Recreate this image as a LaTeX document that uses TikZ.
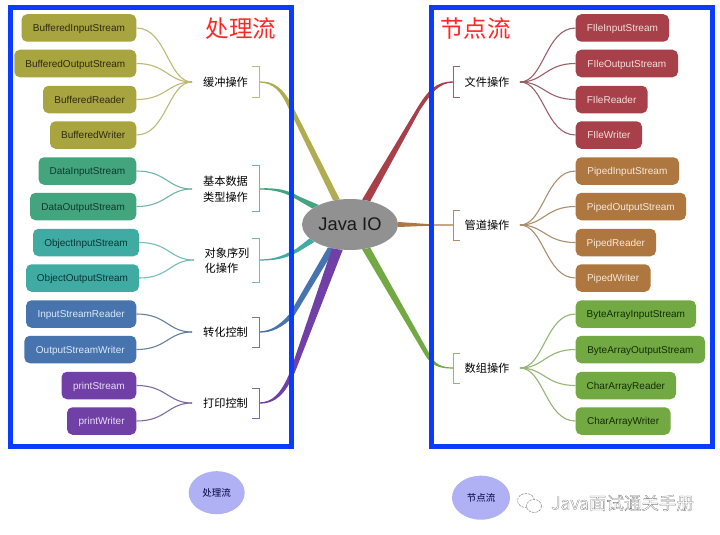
\documentclass[tikz,border=0pt]{standalone}
\usepackage{fontspec}
\setmainfont{Liberation Sans}
\newfontfamily\cjk{Noto Sans CJK SC}
\usetikzlibrary{shapes.geometric}
\pgfdeclarelayer{branches}\pgfdeclarelayer{frames}
\pgfsetlayers{branches,frames,main}
\definecolor{cOl}{HTML}{A8A43F}\definecolor{cOlT}{HTML}{2E2C10}\definecolor{cOlL}{HTML}{BDBA78}
\definecolor{cGr}{HTML}{43A57E}\definecolor{cGrT}{HTML}{0F3A2B}\definecolor{cGrL}{HTML}{72B49D}
\definecolor{cTe}{HTML}{3FABA3}\definecolor{cTeT}{HTML}{0A3535}\definecolor{cTeL}{HTML}{78BDB5}
\definecolor{cBl}{HTML}{4774AE}\definecolor{cBlT}{HTML}{DCE8F6}\definecolor{cBlL}{HTML}{64809F}
\definecolor{cPu}{HTML}{7040A6}\definecolor{cPuT}{HTML}{E8DDF5}\definecolor{cPuL}{HTML}{7D6A9F}
\definecolor{cRe}{HTML}{A8404A}\definecolor{cReT}{HTML}{F5DDDD}\definecolor{cReL}{HTML}{9A6268}
\definecolor{cBr}{HTML}{AE7740}\definecolor{cBrT}{HTML}{F7E8D8}\definecolor{cBrL}{HTML}{AD8E6C}
\definecolor{cLi}{HTML}{72A942}\definecolor{cLiT}{HTML}{142E06}\definecolor{cLiL}{HTML}{95B577}
\definecolor{frameblue}{HTML}{0A3CFF}
\definecolor{bubble}{HTML}{B0B0F5}
\tikzset{
  x=1pt,y=-1pt,
  boxnode/.style={rounded corners=5.5pt,inner sep=0pt,minimum height=27.5pt,text height=7.2pt,text depth=0pt,font=\fontsize{10}{12}\selectfont},
  labelnode/.style={font=\cjk\fontsize{11.2}{15.5}\selectfont,align=left,inner sep=0pt},
  titlenode/.style={font=\cjk\fontsize{23.5}{28}\selectfont,text=red!85!white,inner sep=0pt},
  bubblenode/.style={ellipse,fill=bubble,inner sep=0pt,font=\cjk\fontsize{9.5}{11}\selectfont,text=black!75!blue},
  frameline/.style={draw=frameblue,line width=5pt},
  twig/.style={line width=1.1pt},
  bracket/.style={line width=1pt},
}
\newcommand{\bx}[7]{% name, x1, x2, y, fill, textcolor, text
  \pgfmathsetmacro{\bw}{#3-#2}\pgfmathsetmacro{\bc}{(#3+#2)/2}
  \node[boxnode,fill=#5,text=#6,minimum width=\bw pt] (#1) at (\bc,#4) {#7};}
\newcommand{\lt}[3]{\draw[twig,draw=#3] (#1.east) .. controls +(30,0) and +(-24,0) .. (#2);}
\newcommand{\rt}[3]{\draw[twig,draw=#3] (#1.west) .. controls +(-30,0) and +(24,0) .. (#2);}
\begin{document}
\begin{tikzpicture}
\useasboundingbox (0,0) rectangle (720,535);
\begin{pgfonlayer}{branches}
\fill[white] (0,0) rectangle (720,535);
\end{pgfonlayer}
% centre
\node[ellipse,fill=black!43,minimum width=96pt,minimum height=51pt,inner sep=0pt,font=\fontsize{18.3}{22}\selectfont,text=black!90] (io) at (350,224.5) {Java IO};
% fork and bracket points
\coordinate (f1) at (192,82);\coordinate (b1) at (259,82);
\coordinate (f2) at (192,189);\coordinate (b2) at (259,189);
\coordinate (f3) at (194,260);\coordinate (b3) at (259,260);
\coordinate (f4) at (192,332);\coordinate (b4) at (259,332);
\coordinate (f5) at (192,403);\coordinate (b5) at (259,403);
\coordinate (f6) at (520,82);\coordinate (b6) at (453,82);
\coordinate (f7) at (520,225);\coordinate (b7) at (453,225);
\coordinate (f8) at (520,368);\coordinate (b8) at (453,368);
% tapered main branches
\begin{pgfonlayer}{branches}
\fill[cOl,opacity=.9] (259,81.4) .. controls (274,81) and (283,88) .. (292,105) -- (io.112) -- (io.125) -- (288,107) .. controls (281,92) and (274,82.6) .. (259,82.6) -- cycle;
\fill[cGr] (259,188.4) .. controls (277,187.5) and (288,190) .. (299,196.5) -- (io.148) -- (io.157) -- (296,199) .. controls (286,193) and (275,189.5) .. (259,189.6) -- cycle;
\fill[cTe] (259,259.4) .. controls (278,259.5) and (285,254) .. (296,249) -- (io.199) -- (io.206) -- (298,252) .. controls (288,257) and (280,260.5) .. (259,260.6) -- cycle;
\fill[cBl] (259,331.4) .. controls (270,331) and (278,327) .. (289.5,314) -- (io.226) -- (io.238) -- (294,316) .. controls (283,327) and (272,333) .. (259,332.6) -- cycle;
\fill[cPu] (259,402.4) .. controls (272,402.5) and (281,394) .. (290,372) -- (io.233) -- (io.254) -- (295,372) .. controls (285,395) and (275,404) .. (259,403.6) -- cycle;
\fill[cRe] (453,81.4) .. controls (436,81.5) and (428,90) .. (416,110) -- (io.64) -- (io.49) -- (420,110) .. controls (431,94) and (438,83) .. (453,82.6) -- cycle;
\fill[cBr] (io.3) -- (433,224.4) -- (453,224.4) -- (453,225.6) -- (433,225.6) -- (io.-3) -- cycle;
\fill[cLi] (io.-64) -- (425,355) .. controls (431,365) and (438,368.6) .. (453,368.6) -- (453,367.4) .. controls (442,367.5) and (435,365) .. (429,353) -- (io.-49) -- cycle;
\end{pgfonlayer}
% frames
\begin{pgfonlayer}{frames}
\draw[frameline] (10,8) rectangle (291,446);
\draw[frameline] (431,8) rectangle (712,446);
\end{pgfonlayer}
% titles
\node[titlenode] (t1) at (241,28.5) {处理流};
\node[titlenode] (t2) at (475.5,28.5) {节点流};
% left boxes
\bx{bis}{21.5}{136.3}{28}{cOl}{cOlT}{BufferedInputStream}
\bx{bos}{14.3}{136.3}{63.5}{cOl}{cOlT}{BufferedOutputStream}
\bx{brd}{43}{136.3}{99.5}{cOl}{cOlT}{BufferedReader}
\bx{bwr}{50}{136.3}{135}{cOl}{cOlT}{BufferedWriter}
\bx{dis}{38.5}{136.3}{171}{cGr}{cGrT}{DataInputStream}
\bx{dos}{30}{136.3}{206.5}{cGr}{cGrT}{DataOutputStream}
\bx{ois}{33}{139}{242.5}{cTe}{cTeT}{ObjectInputStream}
\bx{oos}{26}{139}{278}{cTe}{cTeT}{ObjectOutputStream}
\bx{isr}{26}{136.3}{314}{cBl}{cBlT}{InputStreamReader}
\bx{osw}{24.3}{136.3}{349.5}{cBl}{cBlT}{OutputStreamWriter}
\bx{psm}{61.5}{136.3}{385.5}{cPu}{cPuT}{printStream}
\bx{pwr}{67}{136.3}{421}{cPu}{cPuT}{printWriter}
% right boxes
\bx{fis}{575.7}{669}{28}{cRe}{cReT}{FIleInputStream}
\bx{fos}{575.7}{678}{63.5}{cRe}{cReT}{FIleOutputStream}
\bx{frd}{575.7}{647.5}{99.5}{cRe}{cReT}{FIleReader}
\bx{fwr}{575.7}{642}{135}{cRe}{cReT}{FIleWriter}
\bx{pis}{575.7}{679}{171}{cBr}{cBrT}{PipedInputStream}
\bx{pos}{575.7}{686}{206.5}{cBr}{cBrT}{PipedOutputStream}
\bx{prd}{575.7}{656}{242.5}{cBr}{cBrT}{PipedReader}
\bx{pwt}{575.7}{650.5}{278}{cBr}{cBrT}{PipedWriter}
\bx{bai}{575.7}{696}{314}{cLi}{cLiT}{ByteArrayInputStream}
\bx{bao}{575.7}{705}{349.5}{cLi}{cLiT}{ByteArrayOutputStream}
\bx{car}{575.7}{676}{385.5}{cLi}{cLiT}{CharArrayReader}
\bx{caw}{575.7}{670.5}{421}{cLi}{cLiT}{CharArrayWriter}
% twigs
\lt{bis}{f1}{cOlL}\lt{bos}{f1}{cOlL}\lt{brd}{f1}{cOlL}\lt{bwr}{f1}{cOlL}
\lt{dis}{f2}{cGrL}\lt{dos}{f2}{cGrL}
\lt{ois}{f3}{cTeL}\lt{oos}{f3}{cTeL}
\lt{isr}{f4}{cBlL}\lt{osw}{f4}{cBlL}
\lt{psm}{f5}{cPuL}\lt{pwr}{f5}{cPuL}
\rt{fis}{f6}{cReL}\rt{fos}{f6}{cReL}\rt{frd}{f6}{cReL}\rt{fwr}{f6}{cReL}
\rt{pis}{f7}{cBrL}\rt{pos}{f7}{cBrL}\rt{prd}{f7}{cBrL}\rt{pwt}{f7}{cBrL}
\rt{bai}{f8}{cLiL}\rt{bao}{f8}{cLiL}\rt{car}{f8}{cLiL}\rt{caw}{f8}{cLiL}
% labels
\node[labelnode] (l1) at (225.5,82) {缓冲操作};
\node[labelnode] (l2) at (225.5,189) {基本数据\\类型操作};
\node[labelnode] (l3) at (227,260.5) {对象序列\\化操作};
\node[labelnode] (l4) at (225.5,332) {转化控制};
\node[labelnode] (l5) at (225.5,403) {打印控制};
\node[labelnode] (l6) at (487,82) {文件操作};
\node[labelnode] (l7) at (487,225) {管道操作};
\node[labelnode] (l8) at (487,368) {数组操作};
% brackets
\draw[bracket,draw=cOlL] (252,66.5) -- (259,66.5) -- (259,97) -- (252,97);
\draw[bracket,draw=cGrL] (252,165.5) -- (259,165.5) -- (259,211.5) -- (252,211.5);
\draw[bracket,draw=cTeL] (252,238) -- (259,238) -- (259,282.5) -- (252,282.5);
\draw[bracket,draw=cBlL] (252,317) -- (259,317) -- (259,347) -- (252,347);
\draw[bracket,draw=cPuL] (252,388) -- (259,388) -- (259,418) -- (252,418);
\draw[bracket,draw=cReL] (460,66.5) -- (453,66.5) -- (453,97) -- (460,97);
\draw[bracket,draw=cBrL] (460,210) -- (453,210) -- (453,240) -- (460,240);
\draw[bracket,draw=cLiL] (460,353) -- (453,353) -- (453,383) -- (460,383);
% legend
\node[bubblenode,minimum width=56pt,minimum height=43pt] (k1) at (216.7,492.7) {处理流};
\node[bubblenode,minimum width=58pt,minimum height=44pt] (k2) at (481,497.7) {节点流};
% watermark
\draw[black!40,line width=.6pt,dash pattern=on 2.5pt off 1pt] (526,500.5) ellipse [x radius=8.5,y radius=7];
\draw[black!40,line width=.6pt,fill=white,dash pattern=on 2.5pt off 1pt] (534,506) ellipse [x radius=7.5,y radius=6.5];
\node[inner sep=0pt,anchor=west,text=black!60,font=\cjk\fontsize{17.5}{20}\selectfont] (wm) at (551,503) {\special{pdf:code q 0.5 0.5 0.5 RG 0.3 w 1 Tr}Java面试通关手册\special{pdf:code 0 Tr Q}};
\end{tikzpicture}
\end{document}
